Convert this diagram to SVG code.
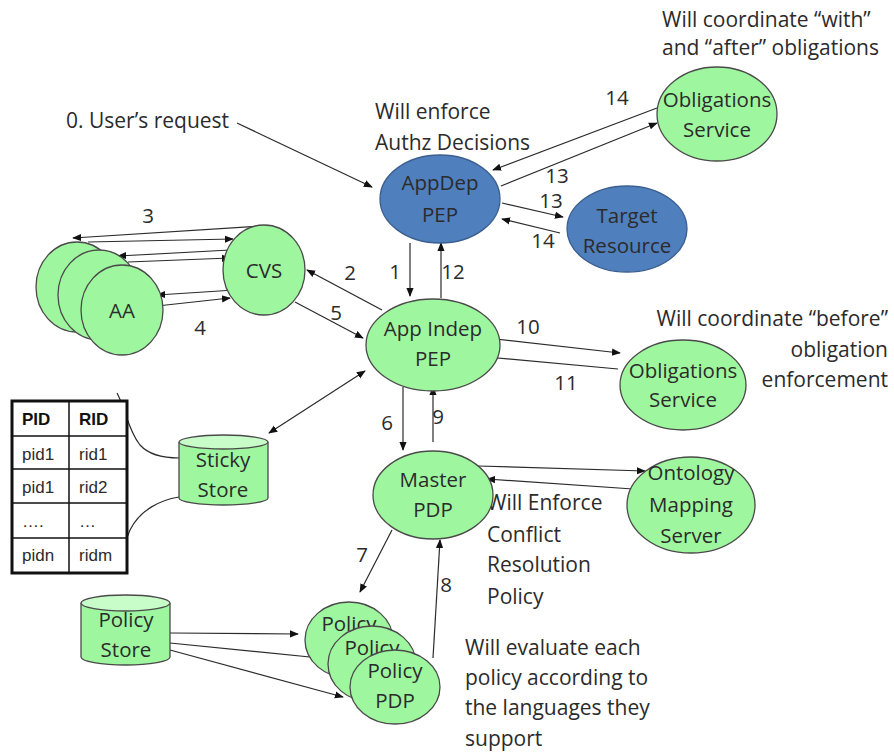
<svg xmlns="http://www.w3.org/2000/svg" width="894" height="755" viewBox="0 0 894 755">
<style>
text{font-family:"Open Sans","Liberation Sans",Arial,sans-serif;font-size:20.5px;fill:#2b2b2b}
.n{font-size:21px}
.c{text-anchor:middle}
.r{text-anchor:end}
.g{fill:#9ef79e;stroke:#4a4a4a;stroke-width:1.3}
.b{fill:#4f7fbd;stroke:#3a5f8f;stroke-width:1.3}
.gt{fill:#c8fcc8;stroke:#4a4a4a;stroke-width:1.3}
.l{stroke:#2b2b2b;stroke-width:1.2;fill:none}
.a{marker-end:url(#ah)}
.d{marker-start:url(#ah2);marker-end:url(#ah)}
.t{font-family:"Liberation Sans",Arial,sans-serif;font-size:17px}
.tb{font-family:"Liberation Sans",Arial,sans-serif;font-size:17px;font-weight:bold;fill:#111}
</style>
<defs>
<marker id="ah" viewBox="0 0 10 10" refX="9" refY="5" markerWidth="9" markerHeight="9" markerUnits="userSpaceOnUse" orient="auto"><path d="M0,1 L10,5 L0,9 z" fill="#111"/></marker>
<marker id="ah2" viewBox="0 0 10 10" refX="1" refY="5" markerWidth="9" markerHeight="9" markerUnits="userSpaceOnUse" orient="auto"><path d="M10,1 L0,5 L10,9 z" fill="#111"/></marker>
</defs>
<rect width="894" height="755" fill="#fff"/>

<g id="labels">
<text x="66" y="128" class="n">0. User’s request</text>
<text x="375" y="119" class="n">Will enforce</text>
<text x="375" y="150" class="n">Authz Decisions</text>
<text x="662" y="27" class="n">Will coordinate “with”</text>
<text x="662" y="55" class="n">and “after” obligations</text>
<text x="888" y="326" class="n r">Will coordinate “before”</text>
<text x="888" y="357" class="n r">obligation</text>
<text x="888" y="387" class="n r">enforcement</text>
<text x="487" y="510" class="n">Will Enforce</text>
<text x="487" y="542" class="n">Conflict</text>
<text x="487" y="572" class="n">Resolution</text>
<text x="487" y="604" class="n">Policy</text>
<text x="465" y="655" class="n">Will evaluate each</text>
<text x="465" y="685" class="n">policy according to</text>
<text x="465" y="715" class="n">the languages they</text>
<text x="465" y="746" class="n">support</text>
</g>

<g id="connectors">
<line class="l a" x1="237" y1="123" x2="372" y2="187"/>
<line class="l a" x1="263" y1="226" x2="73" y2="238"/>
<line class="l a" x1="88" y1="242" x2="233" y2="239"/>
<line class="l a" x1="230" y1="250" x2="118" y2="256"/>
<line class="l a" x1="128" y1="262" x2="230" y2="258"/>
<line class="l a" x1="235" y1="290" x2="157" y2="295"/>
<line class="l a" x1="157" y1="306" x2="230" y2="298"/>
<line class="l a" x1="382" y1="310" x2="307" y2="270"/>
<line class="l a" x1="295" y1="302" x2="363" y2="338"/>
<line class="l a" x1="410" y1="243" x2="410" y2="296"/>
<line class="l a" x1="441" y1="298" x2="441" y2="243"/>
<line class="l a" x1="657" y1="108" x2="493" y2="170"/>
<line class="l a" x1="501" y1="186" x2="657" y2="123"/>
<line class="l a" x1="502" y1="203" x2="563" y2="217"/>
<line class="l a" x1="560" y1="233" x2="502" y2="219"/>
<line class="l a" x1="487" y1="338" x2="620" y2="353"/>
<line class="l a" x1="618" y1="369" x2="487" y2="357"/>
<line class="l d" x1="269" y1="433" x2="365" y2="371"/>
<line class="l a" x1="403" y1="387" x2="403" y2="450"/>
<line class="l a" x1="433" y1="442" x2="433" y2="387"/>
<line class="l a" x1="478" y1="466" x2="645" y2="471"/>
<line class="l a" x1="633" y1="489" x2="487" y2="479"/>
<line class="l a" x1="392" y1="530" x2="360" y2="592"/>
<line class="l a" x1="433" y1="658" x2="440" y2="540"/>
<line class="l a" x1="170" y1="633" x2="298" y2="634"/>
<line class="l a" x1="170" y1="643" x2="320" y2="658"/>
<line class="l a" x1="170" y1="650" x2="343" y2="697"/>
<path class="l" d="M117,393 C126,410 128,430 140,445 C150,456 165,458 179,458" stroke="#555"/>
<path class="l" d="M179,497 C160,500 140,510 130,530 C124,545 121,555 117,563" stroke="#555"/>
</g>

<g id="connector-labels">
<text x="148" y="223" class="c">3</text>
<text x="200" y="335" class="c">4</text>
<text x="350" y="280" class="c">2</text>
<text x="336" y="320" class="c">5</text>
<text x="395" y="279" class="c">1</text>
<text x="453" y="279" class="c">12</text>
<text x="617" y="105" class="c">14</text>
<text x="557" y="183" class="c">13</text>
<text x="551" y="208" class="c">13</text>
<text x="543" y="248" class="c">14</text>
<text x="528" y="334" class="c">10</text>
<text x="566" y="390" class="c">11</text>
<text x="387" y="430" class="c">6</text>
<text x="438" y="424" class="c">9</text>
<text x="362" y="562" class="c">7</text>
<text x="446" y="592" class="c">8</text>
</g>

<g id="appdep-pep">
<ellipse class="b" cx="440" cy="199" rx="60" ry="44"/>
<text x="440" y="190" class="c">AppDep</text>
<text x="440" y="222" class="c">PEP</text>
</g>
<g id="target-resource">
<ellipse class="b" cx="627" cy="229" rx="60" ry="43"/>
<text x="627" y="223" class="c">Target</text>
<text x="627" y="253" class="c">Resource</text>
</g>
<g id="obligations-service-top">
<ellipse class="g" cx="717" cy="114" rx="60" ry="47"/>
<text x="717" y="107" class="c">Obligations</text>
<text x="717" y="137" class="c">Service</text>
</g>
<g id="cvs">
<ellipse class="g" cx="264" cy="270" rx="41" ry="45"/>
<text x="264" y="278" class="c">CVS</text>
</g>
<g id="aa">
<ellipse class="g" cx="77" cy="287" rx="41" ry="45"/>
<ellipse class="g" cx="99" cy="295" rx="41" ry="45"/>
<ellipse class="g" cx="122" cy="310" rx="41" ry="45"/>
<text x="122" y="318" class="c">AA</text>
</g>
<g id="app-indep-pep">
<ellipse class="g" cx="433" cy="345" rx="67" ry="46"/>
<text x="433" y="336" class="c">App Indep</text>
<text x="433" y="366" class="c">PEP</text>
</g>
<g id="obligations-service-mid">
<ellipse class="g" cx="683" cy="385" rx="63" ry="45"/>
<text x="683" y="378" class="c">Obligations</text>
<text x="683" y="407" class="c">Service</text>
</g>
<g id="master-pdp">
<ellipse class="g" cx="433" cy="495" rx="60" ry="44"/>
<text x="433" y="487" class="c">Master</text>
<text x="433" y="517" class="c">PDP</text>
</g>
<g id="ontology-mapping-server">
<ellipse class="g" cx="691" cy="505" rx="64" ry="48"/>
<text x="691" y="480" class="c">Ontology</text>
<text x="691" y="512" class="c">Mapping</text>
<text x="691" y="543" class="c">Server</text>
</g>
<g id="sticky-store">
<path class="g" d="M179,442 L179,498 A44.5,7 0 0 0 268,498 L268,442"/>
<ellipse class="gt" cx="223.5" cy="442" rx="44.5" ry="7"/>
<text x="223" y="467" class="c">Sticky</text>
<text x="223" y="497" class="c">Store</text>
</g>
<g id="sticky-table">
<rect x="12" y="401" width="115" height="172" fill="#fff" stroke="#111" stroke-width="3"/>
<line x1="69" y1="401" x2="69" y2="573" stroke="#111" stroke-width="1.5"/>
<line x1="12" y1="436" x2="127" y2="436" stroke="#111" stroke-width="1.5"/>
<line x1="12" y1="469" x2="127" y2="469" stroke="#111" stroke-width="1.5"/>
<line x1="12" y1="503" x2="127" y2="503" stroke="#111" stroke-width="1.5"/>
<line x1="12" y1="538" x2="127" y2="538" stroke="#111" stroke-width="1.5"/>
<text x="22" y="425" class="tb">PID</text>
<text x="79" y="425" class="tb">RID</text>
<text x="22" y="460" class="t">pid1</text>
<text x="79" y="460" class="t">rid1</text>
<text x="22" y="493" class="t">pid1</text>
<text x="79" y="493" class="t">rid2</text>
<text x="22" y="527" class="t">….</text>
<text x="79" y="527" class="t">…</text>
<text x="22" y="561" class="t">pidn</text>
<text x="79" y="561" class="t">ridm</text>
</g>
<g id="policy-store">
<path class="g" d="M81,603 L81,657 A44.5,8 0 0 0 170,657 L170,603"/>
<ellipse class="gt" cx="125.5" cy="603" rx="44.5" ry="8"/>
<text x="126" y="627" class="c">Policy</text>
<text x="126" y="657" class="c">Store</text>
</g>
<g id="policy-pdp">
<ellipse class="g" cx="349" cy="640" rx="44" ry="38"/>
<text x="349" y="631" class="c">Policy</text>
<ellipse class="g" cx="372" cy="664" rx="44" ry="38"/>
<text x="372" y="655" class="c">Policy</text>
<ellipse class="g" cx="395" cy="687" rx="45" ry="37"/>
<text x="395" y="678" class="c">Policy</text>
<text x="395" y="708" class="c">PDP</text>
</g>
</svg>
